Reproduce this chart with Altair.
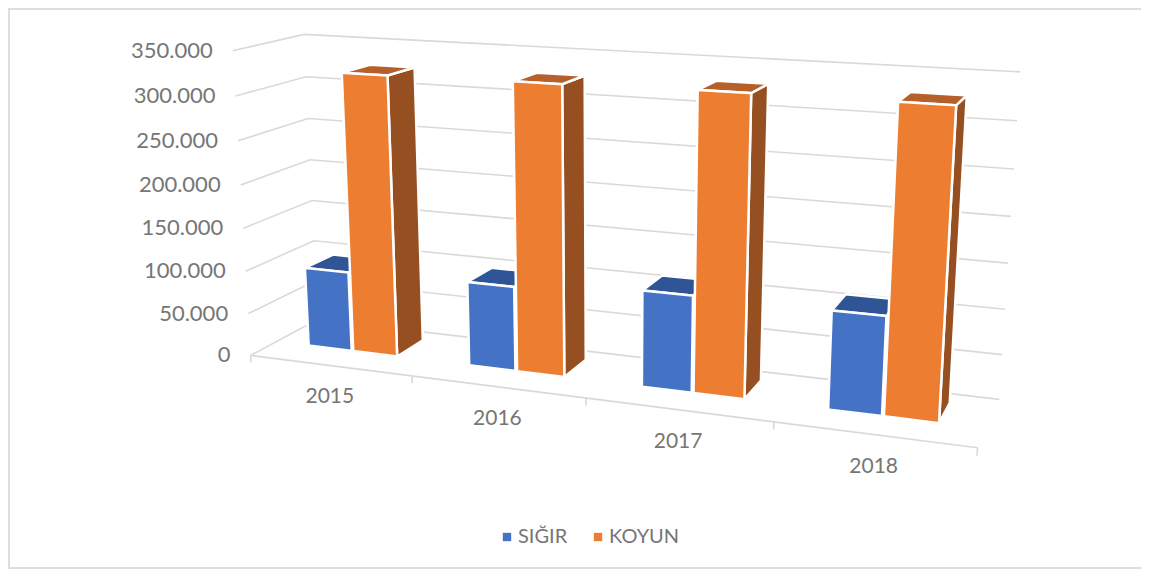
import numpy as np
import pandas as pd
import altair as alt

years = ["2015", "2016", "2017", "2018"]
sigir = [94000, 97500, 108500, 108000]
koyun = [323500, 325500, 328000, 328000]
tick_values = [0, 50000, 100000, 150000, 200000, 250000, 300000, 350000]
tick_labels = ["0", "50.000", "100.000", "150.000", "200.000", "250.000", "300.000", "350.000"]
series = ["SIĞIR", "KOYUN"]
VMAX = 350000.0

W, H = 1133, 561
FONT = "Lato"
GREY = "#767676"
GRID = "#d9d9d9"

# camera calibration: (category pos, depth, value share) -> page pixel of the box corners
calib = [
    ((0, 0, 0), (251, 353)), ((0, 0, 1), (232, 52)),
    ((0, 1, 0), (317, 322)), ((0, 1, 1), (305, 33)),
    ((4, 1, 0), (999, 398)), ((4, 1, 1), (1020, 72)),
    ((4, 0, 0), (978, 449)),
]
rows = []
for (u, w, v), (px, py) in calib:
    rows.append([u, w, v, 1, 0, 0, 0, 0, -px * u, -px * w, -px * v, -px])
    rows.append([0, 0, 0, 0, u, w, v, 1, -py * u, -py * w, -py * v, -py])
P = np.linalg.svd(np.array(rows, float))[2][-1].reshape(3, 4)


def proj(u, w, v):
    q = P @ np.array([u, w, v, 1.0])
    return q[0] / q[2] - 8, q[1] / q[2] - 8


def val(x):
    return x / VMAX


def line_rows(key, pts):
    out = []
    for i, p in enumerate(pts):
        x, y = proj(*p)
        out.append({"k": key, "i": i, "x": x, "y": y})
    return out


def quad_rows(key, pts, extra):
    """Turn a convex quad into upper/lower chains of an area."""
    xy = [proj(*p) for p in pts]
    n = len(xy)
    xs = sorted(set(round(a, 3) for a, _ in xy))
    res = []
    for xv in xs:
        ys = []
        for i in range(n):
            (x0, y0), (x1, y1) = xy[i], xy[(i + 1) % n]
            lo, hi = min(x0, x1), max(x0, x1)
            if lo - 1e-3 <= xv <= hi + 1e-3:
                if abs(x1 - x0) < 1e-6:
                    ys += [y0, y1]
                else:
                    ys.append(y0 + (y1 - y0) * (xv - x0) / (x1 - x0))
        res.append({"k": key, "x": xv, "y": min(ys), "y2": max(ys), **extra})
    return res


x_enc = alt.X("x:Q", scale=alt.Scale(domain=[0, W]), axis=None)
y_enc = alt.Y("y:Q", scale=alt.Scale(domain=[H, 0]), axis=None)

# outer frame of the picture
frame = alt.Chart(pd.DataFrame({
    "x": [W, 1, 1, W], "y": [1, 1, H - 1, H - 1], "i": [0, 1, 2, 3],
})).mark_line(color="#dedede", strokeWidth=2).encode(x=x_enc, y=y_enc, order="i:Q")

# walls and floor
lines = []
for t in tick_values:
    lines += line_rows(f"g{t}", [(0, 0, val(t)), (0, 1, val(t)), (4, 1, val(t))])
lines += line_rows("front", [(0, 0, 0), (4, 0, 0)])
for u in range(5):
    lines += line_rows(f"t{u}", [(u, 0, 0), (u, 0, -0.024)])
grid = alt.Chart(pd.DataFrame(lines)).mark_line(color=GRID, strokeWidth=1.6).encode(
    x=x_enc, y=y_enc, detail="k:N", order="i:Q"
)

# bars
D1, D2 = 0.37, 0.80
C0, C1, S0, S1 = 0.21, 0.485, 0.495, 0.77
front_c, top_c, front_s, top_s, side_s = [], [], [], [], []
for n, y in enumerate(years):
    c, s = val(sigir[n]), val(koyun[n])
    a, b, d, e = n + C0, n + C1, n + S0, n + S1
    front_c += quad_rows(y, [(a, D1, 0), (b, D1, 0), (b, D1, c), (a, D1, c)], {"s": series[0]})
    top_c += quad_rows(y, [(a, D1, c), (b, D1, c), (b, D2, c), (a, D2, c)], {})
    front_s += quad_rows(y, [(d, D1, 0), (e, D1, 0), (e, D1, s), (d, D1, s)], {"s": series[1]})
    top_s += quad_rows(y, [(d, D1, s), (e, D1, s), (e, D2, s), (d, D2, s)], {})
    side_s += quad_rows(y, [(e, D1, 0), (e, D2, 0), (e, D2, s), (e, D1, s)], {})


def faces(rows_, color):
    return alt.Chart(pd.DataFrame(rows_)).mark_area(
        color=color, stroke="white", strokeWidth=2.5
    ).encode(x=x_enc, y=y_enc, y2="y2:Q", detail="k:N")


legend = alt.Legend(
    title=None, orient="none", legendX=489, legendY=519, direction="horizontal", columns=2,
    symbolType="square", symbolSize=70, symbolStrokeWidth=0, labelFont=FONT, labelFontSize=20,
    labelColor=GREY, columnPadding=20, labelOffset=1,
)
color = alt.Color("s:N", scale=alt.Scale(domain=series, range=["#4472C4", "#ED7D31"]), legend=legend)
front_c_l = alt.Chart(pd.DataFrame(front_c)).mark_area(stroke="white", strokeWidth=2.5).encode(
    x=x_enc, y=y_enc, y2="y2:Q", detail="k:N", color=color)
front_s_l = alt.Chart(pd.DataFrame(front_s)).mark_area(stroke="white", strokeWidth=2.5).encode(
    x=x_enc, y=y_enc, y2="y2:Q", detail="k:N", color=color)

# text
val_rows = []
for t, lab in zip(tick_values, tick_labels):
    x, y = proj(0, 0, val(t))
    val_rows.append({"x": x, "y": y, "t": lab})
cat_rows = []
for n, yr in enumerate(years):
    x, y = proj(n + 0.5, 0, 0)
    cat_rows.append({"x": x, "y": y, "t": yr})
val_text = alt.Chart(pd.DataFrame(val_rows)).mark_text(
    font=FONT, fontSize=22, color=GREY, align="right", baseline="middle", dx=-20, dy=0
).encode(x=x_enc, y=y_enc, text="t:N")
cat_text = alt.Chart(pd.DataFrame(cat_rows)).mark_text(
    font=FONT, fontSize=21, color=GREY, align="center", baseline="middle", dy=32
).encode(x=x_enc, y=y_enc, text="t:N")

chart = alt.layer(
    frame,
    grid,
    faces(top_c, "#2F5597"),
    front_c_l,
    faces(side_s, "#954F20"),
    faces(top_s, "#B5602A"),
    front_s_l,
    val_text,
    cat_text,
).properties(
    width=W, height=H, padding=0, background="white",
    autosize=alt.AutoSizeParams(type="none"),
).configure_view(stroke=None)

chart.save("out.html", embed_options={"renderer": "svg", "actions": False})
